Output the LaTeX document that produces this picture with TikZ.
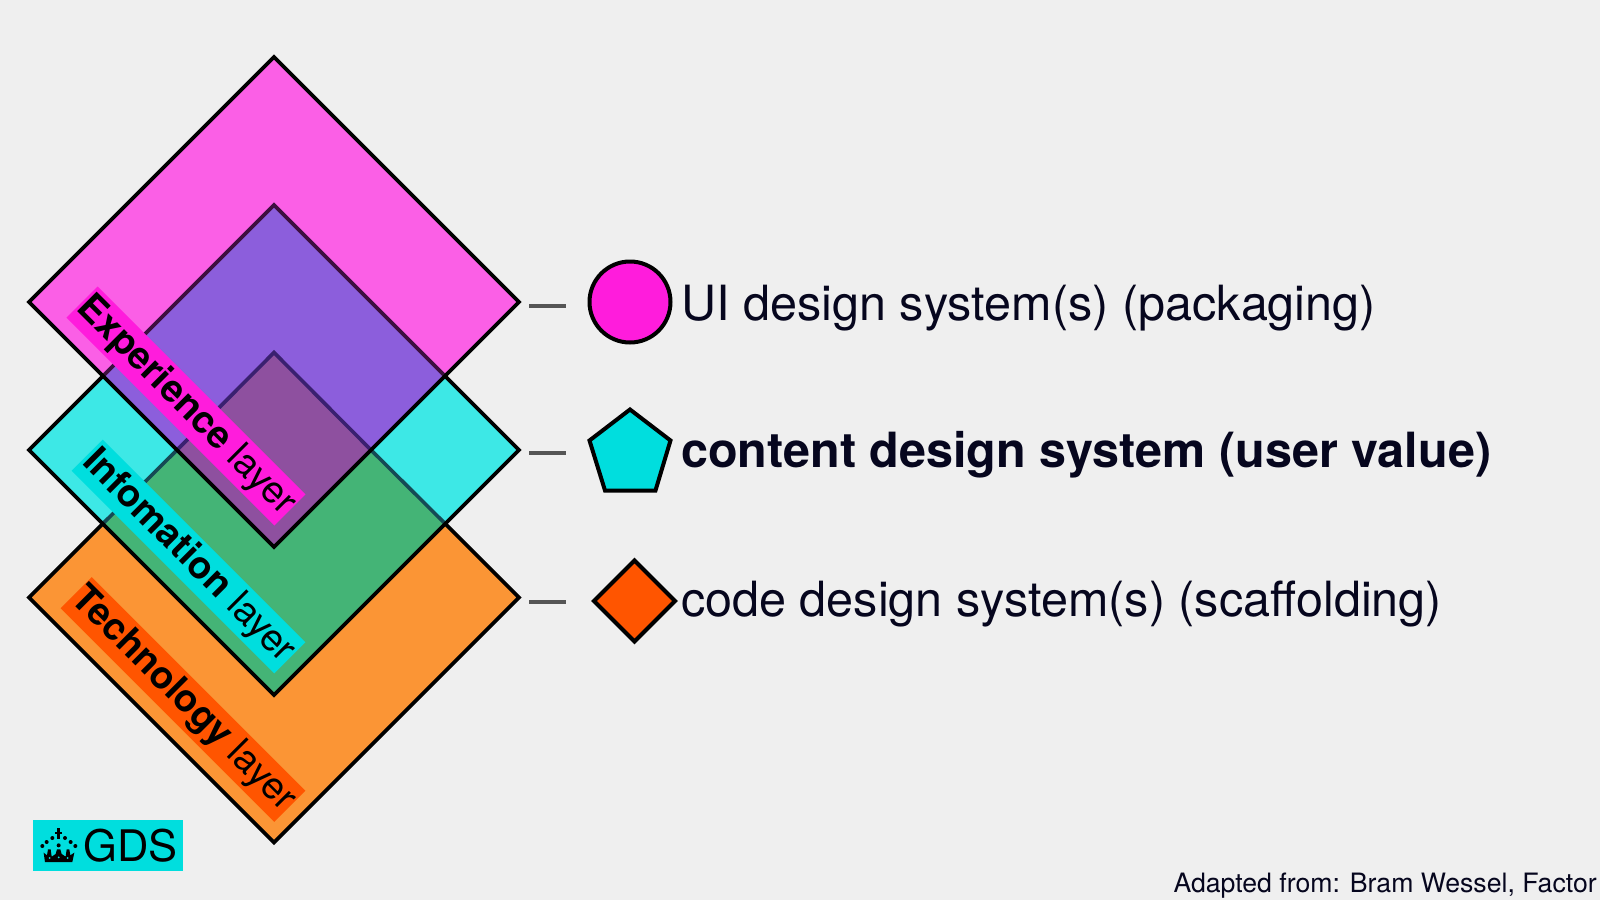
\documentclass[tikz,border=0pt]{standalone}
\usepackage{fontspec}
\setmainfont{TeX Gyre Heros}
\definecolor{bgc}{HTML}{EFEFEF}
\definecolor{magA}{HTML}{FB5FE6}
\definecolor{cyaA}{HTML}{3DE8E6}
\definecolor{oraA}{HTML}{FB9535}
\definecolor{purA}{HTML}{8C5EDC}
\definecolor{grnA}{HTML}{44B476}
\definecolor{brnA}{HTML}{8E509F}
\definecolor{magB}{HTML}{FF1CDC}
\definecolor{cyaB}{HTML}{00DEDE}
\definecolor{oraB}{HTML}{FF5500}
\definecolor{dimM}{HTML}{3E0F40}
\definecolor{dimT}{HTML}{3A2070}
\definecolor{dimC}{HTML}{154A55}
\definecolor{inkc}{HTML}{06061E}
\definecolor{dashc}{HTML}{555555}
\tikzset{
  edgeline/.style={line width=2.7pt,line join=miter,draw=black},
  layerlabel/.style={rotate=-45,inner sep=0pt,minimum height=33pt,font=\fontsize{28.4}{28.4}\selectfont,text=black},
  legendtext/.style={anchor=base west,inner sep=0pt,text=inkc,font=\fontsize{36.4}{36.4}\selectfont},
  legenddash/.style={line width=2.8pt,draw=dashc},
  legendshape/.style={line width=3pt,draw=black,line join=miter}
}
\newcommand{\lowtext}[1]{\raisebox{-1.8pt}{#1}}
\begin{document}
\begin{tikzpicture}[x=0.75pt,y=-0.75pt]
\useasboundingbox (0,0) rectangle (1600,900);
\fill[bgc] (0,0) rectangle (1600,900);
% corners
\coordinate (Tn) at (274,57); \coordinate (Te) at (519,302); \coordinate (Ts) at (274,547); \coordinate (Tw) at (29,302);
\coordinate (Mn) at (274,205); \coordinate (Me) at (519,450); \coordinate (Ms) at (274,695); \coordinate (Mw) at (29,450);
\coordinate (Bn) at (274,352.5); \coordinate (Be) at (519,597.5); \coordinate (Bs) at (274,842.5); \coordinate (Bw) at (29,597.5);
% crossings
\coordinate (x1) at (103,376); \coordinate (x2) at (445,376);
\coordinate (x3) at (103,523.5); \coordinate (x4) at (445,523.5);
\coordinate (x5) at (177.5,449.5); \coordinate (x6) at (370.5,449.5);
% fills
\fill[oraA] (Bn)--(Be)--(Bs)--(Bw)--cycle;
\fill[cyaA] (Mn)--(Me)--(Ms)--(Mw)--cycle;
\fill[grnA] (Bn)--(x4)--(Ms)--(x3)--cycle;
\fill[magA] (Tn)--(Te)--(Ts)--(Tw)--cycle;
\fill[purA] (Mn)--(x2)--(Ts)--(x1)--cycle;
\fill[brnA] (Bn)--(x6)--(Ts)--(x5)--cycle;
% covered edges
\draw[edgeline,draw=dimM] (x1)--(Mn)--(x2);
\draw[edgeline,draw=dimT] (x5)--(Bn)--(x6);
\draw[edgeline,draw=dimC] (x3)--(x5);
\draw[edgeline,draw=dimC] (x6)--(x4);
% open edges
\draw[edgeline] (x3)--(Bw)--(Bs)--(Be)--(x4);
\draw[edgeline] (x1)--(Mw)--(Ms)--(Me)--(x2);
\draw[edgeline] (Tn)--(Te)--(Ts)--(Tw)--cycle;
% layer labels
\node[layerlabel,fill=magB,minimum width=220.5pt] (lexp) at (186,406) {\lowtext{\textbf{Experience} layer}};
\node[layerlabel,fill=cyaB,minimum width=215pt] (linf) at (188.5,556.5) {\lowtext{\textbf{Infomation} layer}};
\node[layerlabel,fill=oraB,minimum width=226.5pt] (ltec) at (183,699.5) {\lowtext{\textbf{Technology} layer}};
% legend
\coordinate (d1a) at (529,306); \coordinate (d1b) at (566,306);
\coordinate (d2a) at (529,453); \coordinate (d2b) at (566,453);
\coordinate (d3a) at (529,602); \coordinate (d3b) at (566,602);
\draw[legenddash] (d1a)--(d1b);
\draw[legenddash] (d2a)--(d2b);
\draw[legenddash] (d3a)--(d3b);
\draw[legendshape,fill=magB] (630,302) circle[radius=40.5];
\draw[legendshape,fill=cyaB] (630,409.5)--(670.5,440.5)--(655.5,490.5)--(605,490.5)--(589.5,440.5)--cycle;
\draw[legendshape,fill=oraB] (634.5,560.5)--(675,601)--(634.5,641.5)--(594,601)--cycle;
\node[legendtext] (t1) at (681,320) {UI design system(s) (packaging)};
\node[legendtext] (t2) at (681,467) {\textbf{content design system (user value)}};
\node[legendtext] (t3) at (681,616) {code design system(s) (scaffolding)};
% GDS badge
\fill[cyaB] (33,820) rectangle (183,871);
\begin{scope}[shift={(35,822)},x=0.25pt,y=-0.25pt]
  \fill[black] (66,18) rectangle (75,52);
  \fill[black] (60,29) rectangle (81,37);
  \fill[black] (22,72) circle[radius=6];
  \fill[black] (35,60) circle[radius=6];
  \fill[black] (52,48) circle[radius=6];
  \fill[black] (90,48) circle[radius=6];
  \fill[black] (107,60) circle[radius=6];
  \fill[black] (121,72) circle[radius=6];
  \fill[black] (71,70) circle[radius=6];
  \fill[black] (30,120)--(26,92)--(36,100)--(39,82)--(47,82)--(50,104)--(62,96)--(66,82)--(76,82)--(80,96)--(92,104)--(95,82)--(103,82)--(106,100)--(118,92)--(112,120)--cycle;
  \fill[cyaB] (44,108) circle[radius=3];
  \fill[cyaB] (71,106) circle[radius=3];
  \fill[cyaB] (98,108) circle[radius=3];
\end{scope}
\node[anchor=base west,inner sep=0pt,text=black,font=\fontsize{32.6}{32.6}\selectfont] (gds) at (83,861) {GDS};
\node[anchor=base east,inner sep=0pt,text=inkc,font=\fontsize{20}{20}\selectfont] (src) at (1597,892) {Adapted from: Bram Wessel, Factor};
\end{tikzpicture}
\end{document}
